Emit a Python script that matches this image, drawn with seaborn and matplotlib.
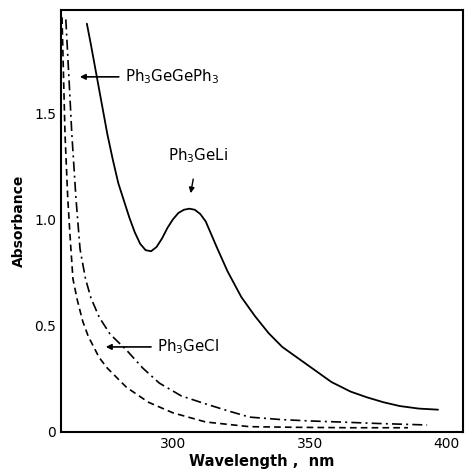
import matplotlib
matplotlib.use("Agg")
import matplotlib.pyplot as plt
import seaborn as sns
import pandas as pd

# Ph3GeLi (solid)
li_nm = [268.5, 270, 272, 274, 276, 278, 280, 282, 284, 286, 288, 290, 292, 294, 296, 298,
         300, 302, 304, 306, 308, 310, 312, 314, 316, 320, 325, 330, 335, 340, 346, 352,
         358, 365, 371, 377, 383, 390, 397]
li_abs = [1.92, 1.82, 1.68, 1.54, 1.40, 1.28, 1.17, 1.09, 1.01, 0.94, 0.885, 0.855, 0.85,
          0.87, 0.91, 0.96, 1.0, 1.03, 1.045, 1.05, 1.045, 1.025, 0.99, 0.93, 0.87, 0.755,
          0.635, 0.545, 0.465, 0.40, 0.345, 0.29, 0.235, 0.19, 0.163, 0.14, 0.122, 0.11,
          0.105]

# Ph3GeGePh3 (dash-dot)
gg_nm = [260.8, 262, 263, 264.5, 266, 268, 270, 273, 277, 281, 283, 289, 295, 303, 311, 320,
         328, 340, 350, 361, 375, 393]
gg_abs = [1.94, 1.65, 1.40, 1.10, 0.86, 0.72, 0.63, 0.54, 0.46, 0.41, 0.385, 0.30, 0.23, 0.17,
          0.136, 0.10, 0.07, 0.058, 0.052, 0.047, 0.04, 0.033]

# Ph3GeCl (dashed)
cl_nm = [259.4, 260.5, 261.5, 262.3, 263.4, 265, 267, 269, 271, 273, 276, 283, 291, 300, 312,
         328, 345, 365, 386]
cl_abs = [1.95, 1.40, 1.10, 0.93, 0.72, 0.62, 0.52, 0.45, 0.40, 0.35, 0.30, 0.21, 0.14, 0.09,
          0.047, 0.025, 0.022, 0.02, 0.02]

x_ticks = [300, 350, 400]
y_ticks = [0, 0.5, 1.0, 1.5]
y_tick_labels = ["0", "0.5", "1.0", "1.5"]

sns.set_style("white")
plt.rcParams['font.family'] = ['DejaVu Sans']
plt.rcParams['text.color'] = 'black'
plt.rcParams['axes.labelcolor'] = 'black'

fig = plt.figure(figsize=(4.65, 4.73), dpi=100)
ax = fig.add_axes([0.131, 0.0867, 0.865, 0.892])

sns.lineplot(x=li_nm, y=li_abs, ax=ax, color="black", lw=1.3, sort=False)
sns.lineplot(x=gg_nm, y=gg_abs, ax=ax, color="black", lw=1.2, sort=False)
sns.lineplot(x=cl_nm, y=cl_abs, ax=ax, color="black", lw=1.2, sort=False)
ax.lines[1].set_dashes([6, 2.5, 1.2, 2.5])
ax.lines[2].set_dashes([4, 2.5])

ax.set_xlim(259, 406.2)
ax.set_ylim(0, 1.984)
ax.set_xticks(x_ticks)
ax.set_xticklabels([str(t) for t in x_ticks])
ax.set_yticks(y_ticks)
ax.set_yticklabels(y_tick_labels)
ax.tick_params(direction="in", length=5, width=1.2, labelsize=10, colors="black")
for s in ax.spines.values():
    s.set_linewidth(1.5)
    s.set_color("black")

ax.set_xlabel("Wavelength ,  nm", fontsize=10.5, fontweight="bold", labelpad=2, color="black")
ax.set_ylabel("Absorbance", fontsize=10, fontweight="bold", labelpad=6, color="black")

arrow = dict(arrowstyle="-|>", color="black", lw=1.2, mutation_scale=8)
ax.annotate("Ph$_3$GeGePh$_3$", xy=(264.9, 1.67), xytext=(282.4, 1.67), color="black",
            fontsize=10.8, va="center", ha="left", arrowprops=arrow)
ax.annotate("Ph$_3$GeLi", xy=(306.3, 1.11), xytext=(309, 1.30), color="black",
            fontsize=10.8, va="center", ha="center",
            arrowprops=dict(arrowstyle="-|>", color="black", lw=1.0, mutation_scale=8,
                            shrinkA=8))
ax.annotate("Ph$_3$GeCl", xy=(274.4, 0.40), xytext=(294.2, 0.40), color="black",
            fontsize=10.8, va="center", ha="left", arrowprops=arrow)

fig.savefig("out.png", dpi=100)
